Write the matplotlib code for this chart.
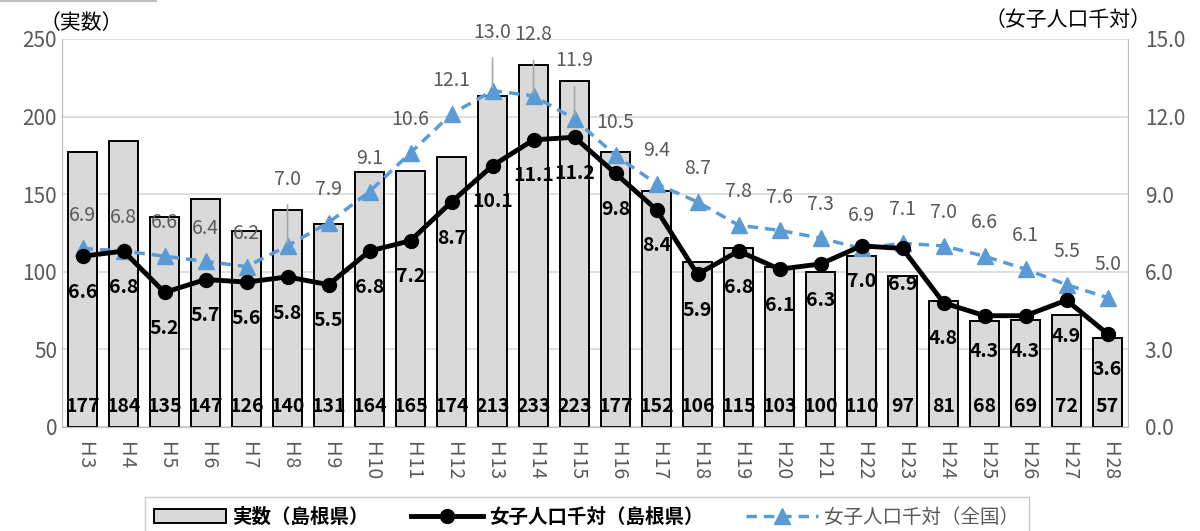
import numpy as np
import matplotlib
matplotlib.use("Agg")
import matplotlib.pyplot as plt
from matplotlib.lines import Line2D

plt.rcParams['font.family'] = ['Noto Sans CJK JP', 'DejaVu Sans']

# 年次（平成）
years = ["Ｈ3", "Ｈ4", "Ｈ5", "Ｈ6", "Ｈ7", "Ｈ8", "Ｈ9", "Ｈ10", "Ｈ11", "Ｈ12", "Ｈ13", "Ｈ14", "Ｈ15",
         "Ｈ16", "Ｈ17", "Ｈ18", "Ｈ19", "Ｈ20", "Ｈ21", "Ｈ22", "Ｈ23", "Ｈ24", "Ｈ25", "Ｈ26", "Ｈ27", "Ｈ28"]
# 実数（島根県）
counts = [177, 184, 135, 147, 126, 140, 131, 164, 165, 174, 213, 233, 223,
          177, 152, 106, 115, 103, 100, 110, 97, 81, 68, 69, 72, 57]
# 女子人口千対（島根県）
rate_shimane = [6.6, 6.8, 5.2, 5.7, 5.6, 5.8, 5.5, 6.8, 7.2, 8.7, 10.1, 11.1, 11.2,
                9.8, 8.4, 5.9, 6.8, 6.1, 6.3, 7.0, 6.9, 4.8, 4.3, 4.3, 4.9, 3.6]
# 女子人口千対（全国）
rate_japan = [6.9, 6.8, 6.6, 6.4, 6.2, 7.0, 7.9, 9.1, 10.6, 12.1, 13.0, 12.8, 11.9,
              10.5, 9.4, 8.7, 7.8, 7.6, 7.3, 6.9, 7.1, 7.0, 6.6, 6.1, 5.5, 5.0]

x = np.arange(len(years))
grid_c = "#d9d9d9"
blue = "#5b9bd5"
gray_txt = "#595959"

fig = plt.figure(figsize=(12, 5.31), dpi=100)
ax1 = fig.add_axes([0.0517, 0.196, 0.8883, 0.7306])
ax2 = ax1.twinx()

# 左上の細線
fig.add_artist(Line2D([0, 0.13], [0.999, 0.999], color="#bfbfbf", lw=1.5))

# 棒グラフ
bars = ax1.bar(x, counts, width=0.7, color="#d9d9d9", edgecolor="black", linewidth=1.4,
               label="実数（島根県）", zorder=2)
for xi, v in zip(x, counts):
    ax1.text(xi, 7, str(v), ha="center", va="bottom", fontsize=14, fontweight="bold", zorder=5)

ax1.set_xlim(-0.5, len(years) - 0.5)
ax1.set_ylim(0, 250)
ax1.set_yticks(range(0, 251, 50))
ax1.yaxis.grid(True, color=grid_c, linewidth=1.2)
ax1.set_axisbelow(True)
ax1.set_xticks(x)
ax1.set_xticklabels(years, rotation=270, fontsize=14, color=gray_txt)
ax1.tick_params(axis="y", labelsize=15, labelcolor=gray_txt, length=0)
ax1.tick_params(axis="x", length=0, pad=10)
for s in ax1.spines.values():
    s.set_color("#bfbfbf")
ax1.spines["top"].set_visible(False)

# 折れ線
line1, = ax2.plot(x, rate_shimane, color="black", lw=3.5, marker="o", ms=10, zorder=4,
                  label="女子人口千対（島根県）")
line2, = ax2.plot(x, rate_japan, color=blue, lw=2.5, ls=(0, (3, 2)), marker="^", ms=11, zorder=3,
                  label="女子人口千対（全国）")
ax2.set_ylim(0, 15)
ax2.set_yticks(np.arange(0, 15.1, 3))
ax2.set_yticklabels([f"{v:.1f}" for v in np.arange(0, 15.1, 3)])
ax2.tick_params(axis="y", labelsize=15, labelcolor=gray_txt, length=0, pad=12)
for s in ax2.spines.values():
    s.set_color("#bfbfbf")
ax2.spines["top"].set_visible(False)

for xi, v in zip(x, rate_shimane):
    ax2.annotate(f"{v:.1f}", (xi, v), xytext=(0, -26), textcoords="offset points",
                 ha="center", va="center", fontsize=14, fontweight="bold", zorder=6)

lifted = {5: 48, 10: 42, 11: 44, 12: 42}
for xi, v in zip(x, rate_japan):
    dy = lifted.get(xi, 24)
    if xi in lifted:
        ax2.annotate(f"{v:.1f}", (xi, v), xytext=(0, dy), textcoords="offset points",
                     ha="center", va="center", fontsize=14, color=gray_txt,
                     arrowprops=dict(arrowstyle="-", color="#a6a6a6", lw=1.2, shrinkA=9, shrinkB=2))
    else:
        ax2.annotate(f"{v:.1f}", (xi, v), xytext=(0, dy), textcoords="offset points",
                     ha="center", va="center", fontsize=14, color=gray_txt)

# 軸タイトル
fig.text(0.033, 0.957, "（実数）", fontsize=15, ha="left", va="center")
fig.text(0.96, 0.963, "（女子人口千対）", fontsize=15, ha="right", va="center")

# 凡例
leg = fig.legend(handles=[bars, line1, line2], loc="center", bbox_to_anchor=(0.489, 0.026),
                 ncol=3, fontsize=14, frameon=True, fancybox=False, edgecolor="#bfbfbf",
                 handlelength=3.7, handletextpad=0.3, columnspacing=2.2, borderpad=0.5,
                 borderaxespad=0)
texts = leg.get_texts()
texts[0].set_fontweight("bold")
texts[1].set_fontweight("bold")
texts[2].set_color(gray_txt)

fig.savefig("out.png", dpi=100)
